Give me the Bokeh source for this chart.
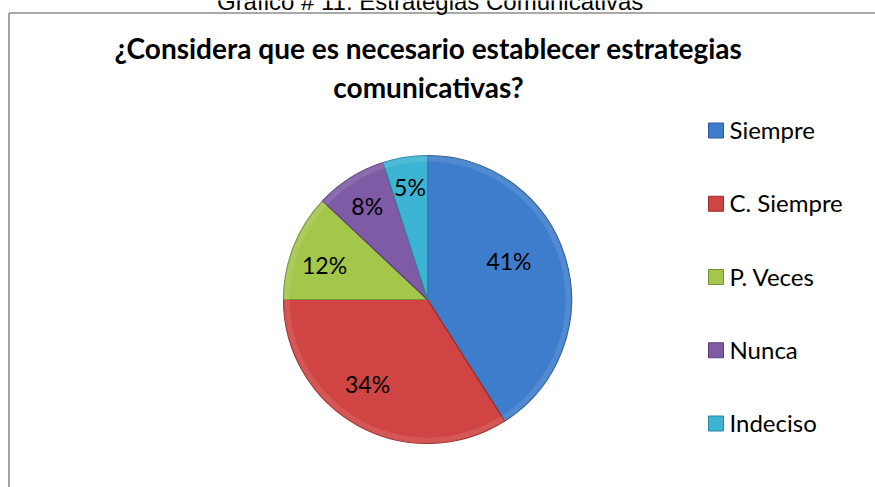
import numpy as np
from bokeh.plotting import figure
from bokeh.models import ColumnDataSource, Range1d
from bokeh.core.properties import value
from bokeh.embed import file_html
from bokeh.resources import INLINE

# ---- data ----
categories = ["Siempre", "C. Siempre", "P. Veces", "Nunca", "Indeciso"]
percents = [41, 34, 12, 8, 5]
colors = ["#3E7DCC", "#D04543", "#A4C64B", "#7F5BA6", "#3DB4D3"]
edge_colors = ["#2B5A96", "#9A2E2C", "#76903A", "#5A3F7A", "#2A87A0"]
label_r = [0.62, 0.73, 0.75, 0.76, 0.78]
label_shift_deg = [8, -6, 4, 1, 0]
caption = "Gráfico # 11:  Estrategias Comunicativas"
title_lines = ["¿Considera que es necesario establecer estrategias", "comunicativas?"]

W, H = 875, 487
p = figure(width=W, height=H, output_backend="svg", toolbar_location=None,
           x_range=Range1d(0, W), y_range=Range1d(0, H), min_border=0)
p.axis.visible = False
p.grid.visible = False
p.outline_line_color = None
p.background_fill_color = "white"

def X(px):
    return px

def Y(py):
    return H - py

# chart border (top and left visible; right/bottom cut off)
p.line([X(8.5), W], [Y(12.5), Y(12.5)], line_color="#8C8C8C", line_width=1.6)
p.line([X(8.5), X(8.5)], [Y(12.5), 0], line_color="#8C8C8C", line_width=1.6)

# caption cut off at top
p.text([X(433)], [Y(1)], text=[caption], text_font=value("Liberation Sans"),
       text_font_size="24px", text_align="center", text_baseline="alphabetic",
       text_color="#000000")

# title
p.text([X(428), X(428)], [Y(47), Y(86)], text=title_lines, text_font=value("Lato"),
       text_font_style="bold", text_font_size="28px", text_align="center",
       text_baseline="alphabetic", text_color="#000000")

# pie
cx, cy, R = X(427), Y(299), 144
vals = np.array(percents, dtype=float)
frac = vals / vals.sum()
cum = np.concatenate([[0], np.cumsum(frac)])
start = np.pi / 2 - cum[:-1] * 2 * np.pi
end = np.pi / 2 - cum[1:] * 2 * np.pi
src = ColumnDataSource(dict(start=start, end=end, color=colors, edge=edge_colors))
p.wedge(x=cx, y=cy, radius=R, start_angle="start", end_angle="end",
        direction="clock", fill_color="color", line_color="edge",
        line_width=1.2, source=src)
# soft highlight ring for a bevel look
p.annular_wedge(x=cx, y=cy, inner_radius=R - 6, outer_radius=R, start_angle="start",
                end_angle="end", direction="clock", fill_color="white",
                fill_alpha=0.10, line_color=None, source=src)

mid = (start + end) / 2 + np.radians(label_shift_deg)
lx = cx + np.array(label_r) * R * np.cos(mid)
ly = cy + np.array(label_r) * R * np.sin(mid) + 2
labels = [f"{v}%" for v in percents]
p.text(lx, ly, text=labels, text_font=value("Lato"), text_font_size="23px",
       text_align="center", text_baseline="middle", text_color="#000000")

# legend
n = len(categories)
leg_y = [Y(129 + i * 73.25) for i in range(n)]
p.rect(x=[X(715.5)] * n, y=[y - 1 for y in leg_y], width=15, height=15,
       fill_color=colors, line_color=edge_colors, line_width=1)
p.text([X(729)] * n, leg_y, text=categories, text_font=value("Lato"),
       text_font_size="24px", text_align="left", text_baseline="middle",
       text_color="#000000")

open("out.html", "w").write(file_html(p, INLINE))
